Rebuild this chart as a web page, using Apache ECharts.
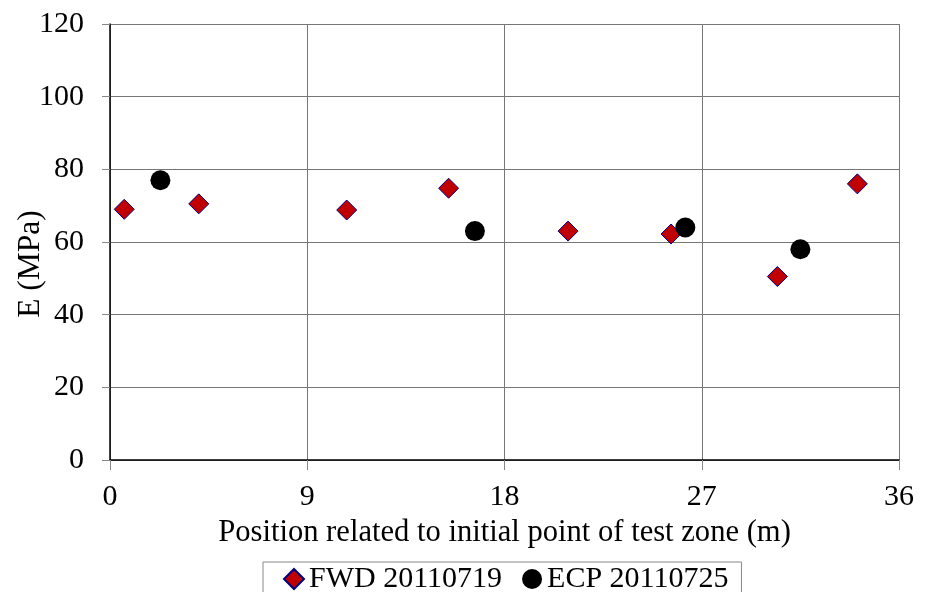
<!DOCTYPE html>
<html>
<head>
<meta charset="utf-8">
<script src="https://cdn.jsdelivr.net/npm/echarts@6/dist/echarts.min.js"></script>
<style>
  html, body { margin: 0; padding: 0; background: #fff; }
  #chart { width: 934px; height: 592px; }
</style>
</head>
<body>
<div id="chart"></div>
<script>
// Stiffness modulus along the test zone
const fwdName = 'FWD 20110719';
const ecpName = 'ECP 20110725';
const fwdPos = [0.65, 4.05, 10.8, 15.45, 20.9, 25.6, 30.45, 34.1];
const fwdE   = [69.0, 70.5, 68.8, 74.8, 63.0, 62.2, 50.5, 76.0];
const ecpPos = [2.3, 16.65, 26.25, 31.5];
const ecpE   = [77.0, 63.0, 64.0, 58.0];
const xTicks = [0, 9, 18, 27, 36];
const yTicks = [0, 20, 40, 60, 80, 100, 120];

const pairs = (xs, ys) => xs.map((x, i) => [x, ys[i]]);
const font = 'Liberation Serif, Times New Roman, serif';
const fs = 30;

const chart = echarts.init(document.getElementById('chart'));
chart.setOption({
  animation: false,
  backgroundColor: '#fff',
  grid: {
    left: 110, top: 24, width: 789, height: 436,
    containLabel: false, outerBoundsMode: 'none'
  },
  xAxis: {
    type: 'value',
    min: xTicks[0], max: xTicks[xTicks.length - 1], interval: xTicks[1] - xTicks[0],
    name: 'Position related to initial point of test zone (m)',
    nameLocation: 'middle', nameGap: 57, nameMoveOverlap: false,
    nameTextStyle: { fontFamily: font, fontSize: 30.6, color: '#000' },
    axisLine: { onZero: false, lineStyle: { color: '#000', width: 1.5 } },
    axisTick: { show: true, length: 10, lineStyle: { color: '#888' } },
    axisLabel: { fontFamily: font, fontSize: fs, color: '#000', margin: 22 },
    splitLine: { show: true, lineStyle: { color: '#777', width: 1 } }
  },
  yAxis: {
    type: 'value',
    min: yTicks[0], max: yTicks[yTicks.length - 1], interval: yTicks[1] - yTicks[0],
    name: 'E (MPa)',
    nameLocation: 'middle', nameGap: 63, nameRotate: 90, nameMoveOverlap: false,
    nameTextStyle: { fontFamily: font, fontSize: 31.5, color: '#000', padding: [0, 44, 0, 0] },
    axisLine: { show: true, onZero: false, lineStyle: { color: '#000', width: 1.5 } },
    axisTick: { show: true, length: 8, lineStyle: { color: '#888' } },
    axisLabel: { fontFamily: font, fontSize: fs, color: '#000', margin: 26 },
    splitLine: { show: true, lineStyle: { color: '#777', width: 1 } }
  },
  legend: {
    left: 263, top: 562,
    padding: [2, 13, 10, 20],
    borderColor: '#888', borderWidth: 1,
    itemGap: 20, itemWidth: 20, itemHeight: 20,
    textStyle: { fontFamily: font, fontSize: fs, color: '#000' },
    data: [
      { name: fwdName, icon: 'diamond' },
      { name: ecpName, icon: 'circle' }
    ]
  },
  series: [
    {
      name: fwdName, type: 'scatter', symbol: 'diamond', symbolSize: 20,
      itemStyle: { color: '#C00000', borderColor: '#000080', borderWidth: 1, opacity: 1 },
      data: pairs(fwdPos, fwdE)
    },
    {
      name: ecpName, type: 'scatter', symbol: 'circle', symbolSize: 20,
      itemStyle: { color: '#000', opacity: 1 },
      data: pairs(ecpPos, ecpE)
    }
  ]
});
</script>
</body>
</html>
